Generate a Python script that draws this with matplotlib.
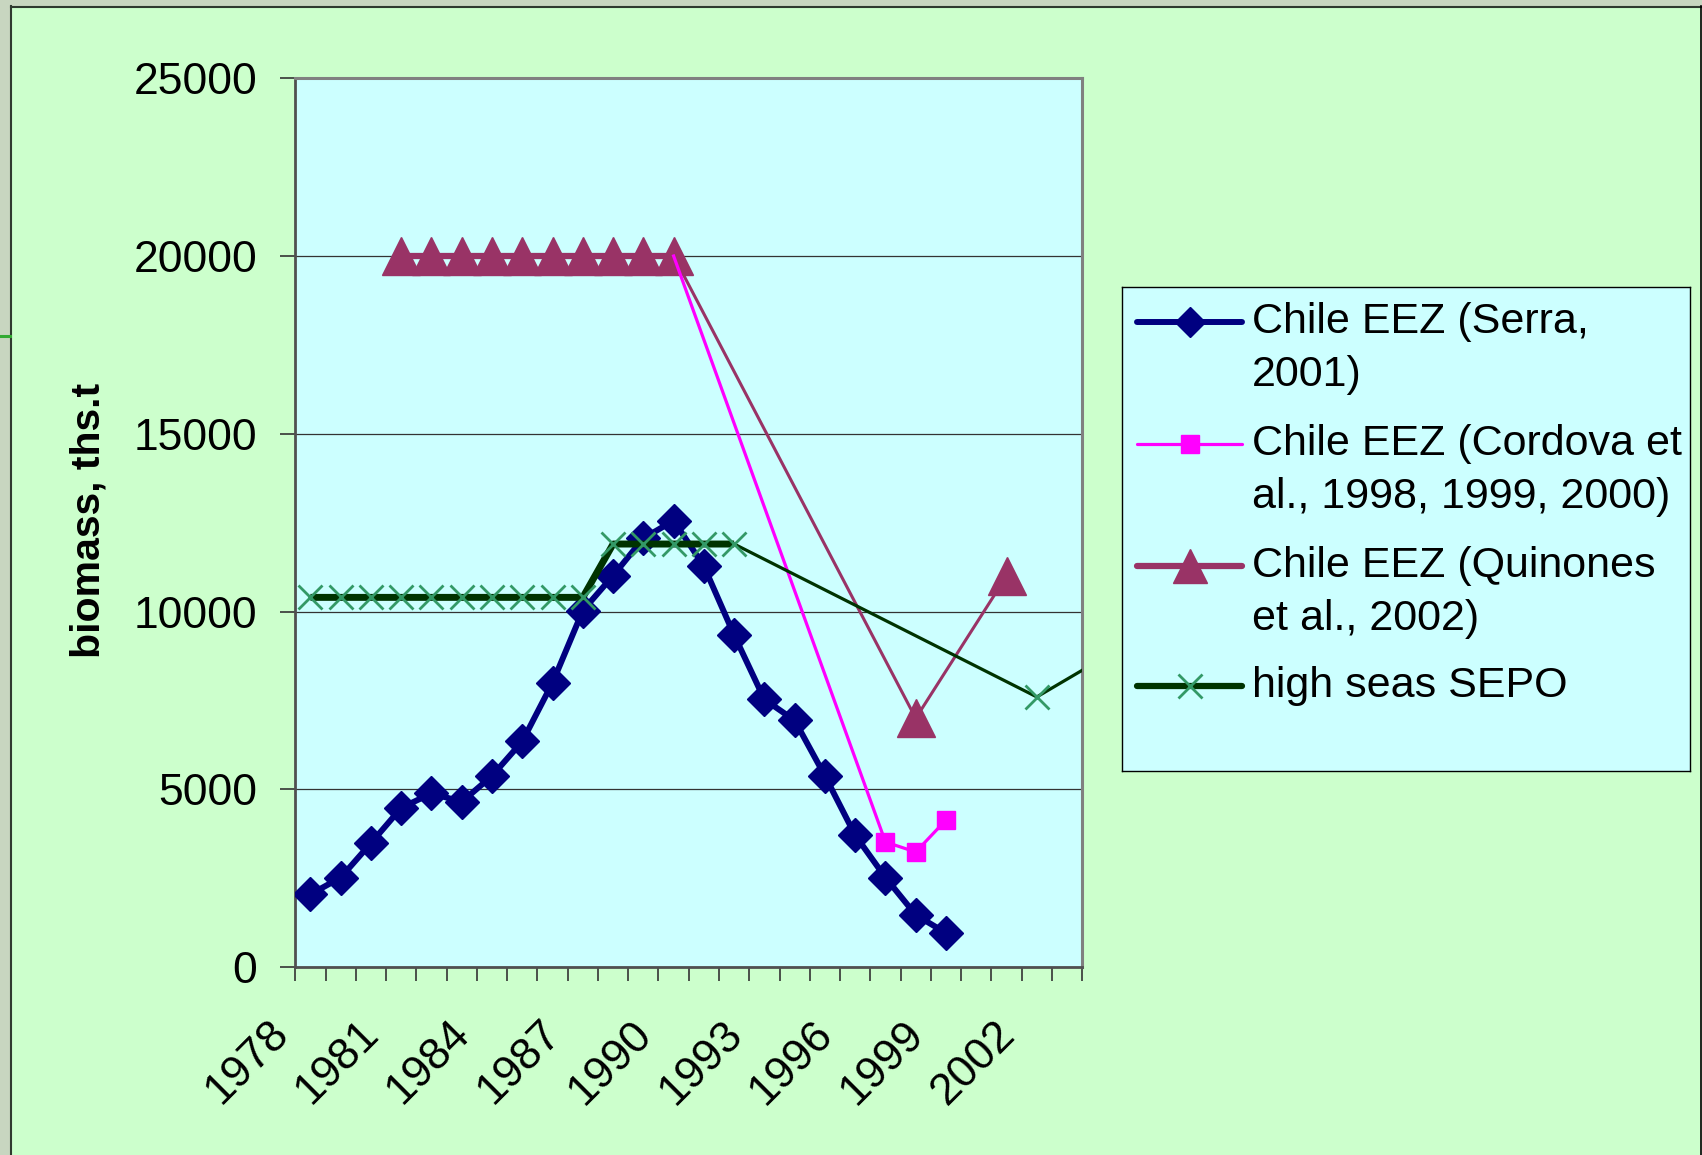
import matplotlib
matplotlib.use("Agg")
import matplotlib.pyplot as plt
import matplotlib.transforms as mtransforms
from matplotlib.lines import Line2D
from matplotlib.patches import Rectangle
import numpy as np

plt.rcParams['font.family'] = ['Liberation Sans', 'DejaVu Sans']

W, H, DPI = 1702, 1155, 100

# biomass estimates, ths.t
SERRA_YEARS = list(range(1978, 2000))
SERRA = [2050, 2520, 3490, 4480, 4890, 4650, 5380, 6350, 8000, 10030, 11010,
         12060, 12560, 11280, 9340, 7530, 6940, 5380, 3710, 2520, 1470, 960]

CORDOVA_YEARS = [1990, 1997, 1998, 1999]
CORDOVA = [20000, 3520, 3240, 4140]

QUINONES_YEARS = [1981, 1982, 1983, 1984, 1985, 1986, 1987, 1988, 1989, 1990, 1998, 2001]
QUINONES = [20000, 20000, 20000, 20000, 20000, 20000, 20000, 20000, 20000, 20000, 7000, 11000]

SEPO_YEARS = [1978, 1979, 1980, 1981, 1982, 1983, 1984, 1985, 1986, 1987,
              1988, 1989, 1990, 1991, 1992, 2002, 2004]
SEPO = [10400, 10400, 10400, 10400, 10400, 10400, 10400, 10400, 10400, 10400,
        11900, 11900, 11900, 11900, 11900, 7600, 8600]

LABEL_YEARS = list(range(1978, 2003, 3))
LEGEND_LABELS = ["Chile EEZ (Serra,\n2001)",
                 "Chile EEZ (Cordova et\nal., 1998, 1999, 2000)",
                 "Chile EEZ (Quinones\net al., 2002)",
                 "high seas SEPO"]

NAVY, MAGENTA, PLUM = "#000080", "#FF00FF", "#993366"
DKGREEN, XGREEN = "#003300", "#339966"


def fx(px):
    return px / W


def fy(py):
    return 1 - py / H


def runs(years, vals):
    """split a series into runs of consecutive years"""
    out, xs, ys = [], [years[0]], [vals[0]]
    for y, v in zip(years[1:], vals[1:]):
        if y == xs[-1] + 1:
            xs.append(y); ys.append(v)
        else:
            out.append((xs, ys)); xs, ys = [y], [v]
    out.append((xs, ys))
    return out


fig = plt.figure(figsize=(W / DPI, H / DPI), dpi=DPI, facecolor="#CCFFCC")

# slide frame around the chart
fig.add_artist(Rectangle((0, 0), fx(10), 1, transform=fig.transFigure, color="#C8D6C0", zorder=0))
fig.add_artist(Rectangle((0, fy(6)), 1, 1 - fy(6), transform=fig.transFigure, color="#C8D6C0", zorder=0))
fig.add_artist(Line2D([fx(10.5), fx(10.5)], [0, fy(6)], transform=fig.transFigure, color="#2F3A2F", lw=1.5))
fig.add_artist(Line2D([fx(10.5), 1], [fy(6.5), fy(6.5)], transform=fig.transFigure, color="#2F3A2F", lw=1.5))
fig.add_artist(Line2D([fx(1700.5), fx(1700.5)], [0, fy(6)], transform=fig.transFigure, color="#000000", lw=1.2))
fig.add_artist(Line2D([0, fx(10)], [fy(336), fy(336)], transform=fig.transFigure, color="#33AA33", lw=2.2))

ax = fig.add_axes([fx(295.3), fy(967.2), fx(1082.2 - 295.3), (967.2 - 78.2) / H])
ax.set_facecolor("#CCFFFF")

# Serra
ax.plot(SERRA_YEARS, SERRA, color=NAVY, lw=4.3, marker="D", ms=17, mfc=NAVY, mec=NAVY, mew=1, zorder=3)

# Quinones: thin link across gaps, thick over consecutive years
ax.plot(QUINONES_YEARS, QUINONES, color=PLUM, lw=2.2, zorder=4)
for xs, ys in runs(QUINONES_YEARS, QUINONES):
    ax.plot(xs, ys, color=PLUM, lw=4.5, zorder=4)
ax.plot(QUINONES_YEARS, QUINONES, ls="none", marker="^", ms=27, color=PLUM, zorder=4)

# Cordova
ax.plot(CORDOVA_YEARS, CORDOVA, color=MAGENTA, lw=2.3, marker="s", ms=13.5, mfc=MAGENTA, mec=MAGENTA,
        markevery=[1, 2, 3], zorder=5)

# high seas SEPO
ax.plot(SEPO_YEARS, SEPO, color=DKGREEN, lw=2.3, zorder=6)
for xs, ys in runs(SEPO_YEARS, SEPO):
    ax.plot(xs, ys, color=DKGREEN, lw=5, solid_capstyle="butt", zorder=6)
ax.plot(SEPO_YEARS, SEPO, ls="none", marker="x", ms=17, mew=2, color=XGREEN, zorder=6)

ax.set_xlim(1977.5, 2003.5)
ax.set_ylim(0, 25000)

ax.set_yticks(range(0, 25001, 5000))
ax.tick_params(axis="y", length=10.8, width=1.2, color="#333333", pad=16.5, labelsize=32)
ax.yaxis.grid(True, color="#333333", lw=0.9)
ax.set_axisbelow(True)

ax.set_xticks(np.arange(1977.5, 2004, 1))
ax.set_xticklabels([])
ax.tick_params(axis="x", which="major", length=10, width=1.2, color="#333333")
ax.set_xticks(LABEL_YEARS, minor=True)
ax.set_xticklabels([str(y) for y in LABEL_YEARS], minor=True, rotation=45,
                   rotation_mode="anchor", ha="right", va="top", fontsize=32)
ax.tick_params(axis="x", which="minor", length=0, pad=33)
shift = mtransforms.ScaledTranslation(-43 / DPI, 0, fig.dpi_scale_trans)
for lab in ax.get_xticklabels(minor=True):
    lab.set_transform(lab.get_transform() + shift)

for side in ("left", "bottom"):
    ax.spines[side].set_color("#505050")
    ax.spines[side].set_linewidth(2)
for side in ("top", "right"):
    ax.spines[side].set_color("#808080")
    ax.spines[side].set_linewidth(2.2)

fig.text(fx(89), fy(520), "biomass, ths.t", rotation=90, ha="center", va="center",
         fontsize=29.5, fontweight="bold")

# legend box, drawn in pixel units
lax = fig.add_axes([fx(1122), fy(771), fx(1690 - 1122), (771 - 287) / H])
lax.set_facecolor("#CCFFFF")
lax.set_xlim(1122, 1690)
lax.set_ylim(771, 287)
lax.set_xticks([]); lax.set_yticks([])
for sp in lax.spines.values():
    sp.set_color("#000000"); sp.set_linewidth(1)

handles = [
    dict(color=NAVY, lw=4.3, marker="D", ms=15, mfc=NAVY, mec=NAVY),
    dict(color=MAGENTA, lw=2.3, marker="s", ms=13.5, mfc=MAGENTA, mec=MAGENTA),
    dict(color=PLUM, lw=4.5, marker="^", ms=25, mfc=PLUM, mec=PLUM),
    dict(color=DKGREEN, lw=4.5, marker=None),
]
rows = [322, 444, 566, 686]
for style, y0, label in zip(handles, rows, LEGEND_LABELS):
    lax.plot([1137, 1242], [y0, y0], solid_capstyle="round", color=style["color"], lw=style["lw"])
    if style["marker"]:
        lax.plot([1190], [y0], ls="none", marker=style["marker"], ms=style["ms"],
                 mfc=style["mfc"], mec=style["mec"])
    for i, line in enumerate(label.split("\n")):
        lax.text(1252, y0 + i * 53, line, ha="left", va="center", fontsize=31)
lax.plot([1190], [686], ls="none", marker="x", ms=17, mew=2, color=XGREEN)

fig.savefig("out.png", dpi=DPI, facecolor=fig.get_facecolor())
